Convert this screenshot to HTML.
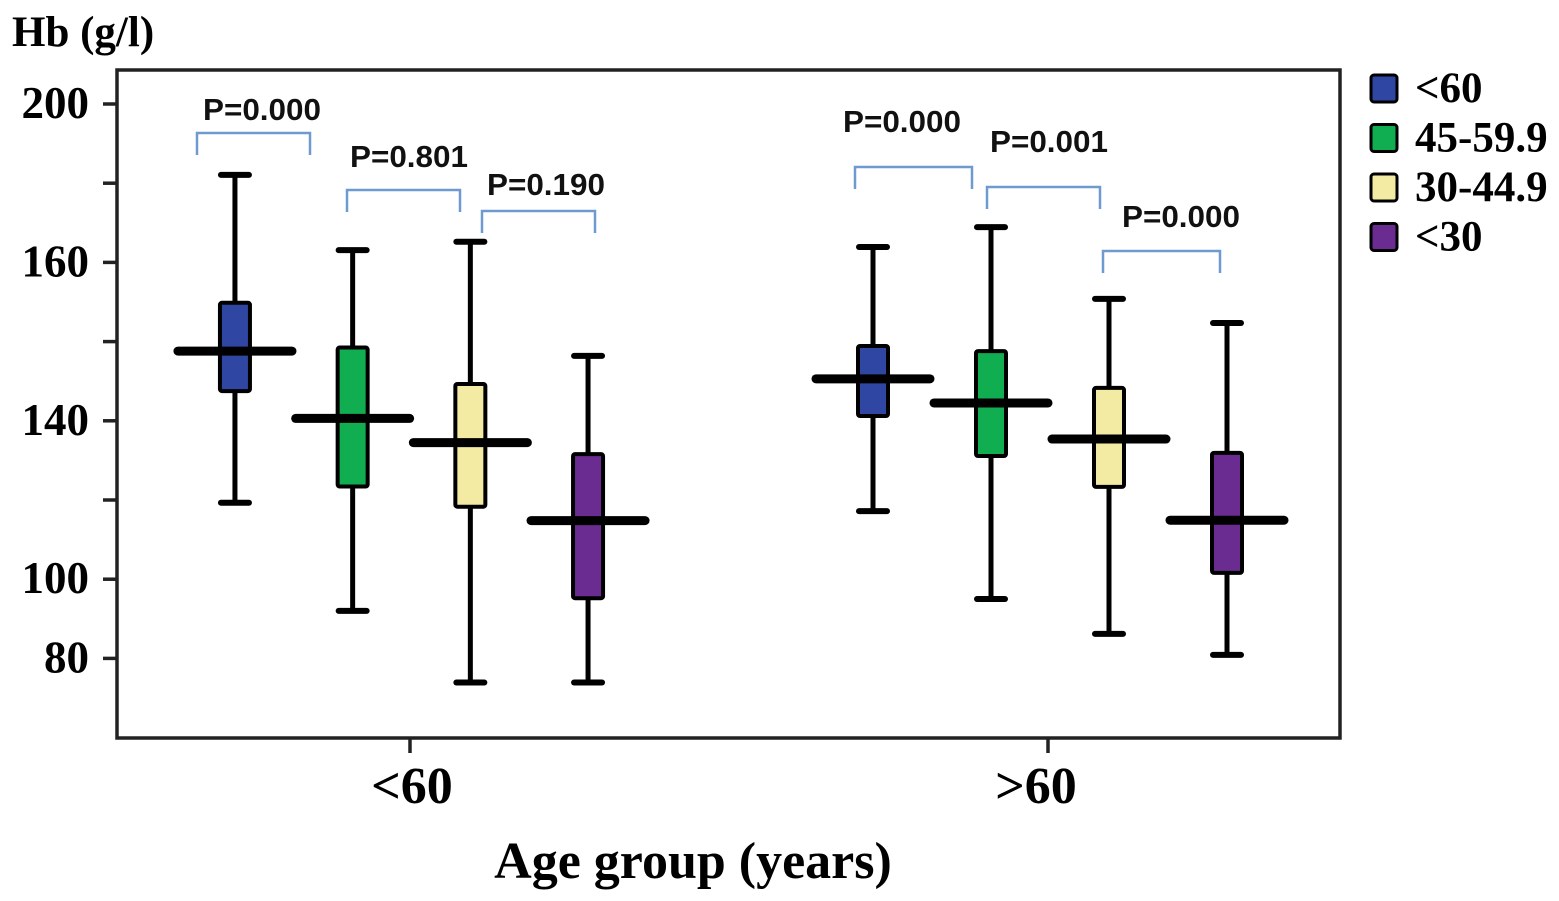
<!DOCTYPE html>
<html><head><meta charset="utf-8"><style>
html,body{margin:0;padding:0;background:#fff;}
svg{display:block;}
.serif{font-family:"Liberation Serif",serif;font-weight:bold;fill:#000;}
.p{font-family:"Liberation Sans",sans-serif;font-weight:bold;font-size:31px;fill:#111;}
</style></head><body>
<svg id="chart" width="1559" height="901" viewBox="0 0 1559 901">
<text class="serif" x="12" y="46" font-size="43">Hb (g/l)</text>
<rect x="117" y="70" width="1223" height="668" fill="none" stroke="#222" stroke-width="3.5"/>
<g id="yaxis"></g>
<g id="xaxis"></g>
<g id="brackets"></g>
<g id="boxes"></g>
<g id="legend"></g>
<text class="serif" x="693" y="878" font-size="52" text-anchor="middle">Age group (years)</text>
</svg>
<script>
const tickLabels=["200","","160","","140","","100","80"];
const groups=["<60",">60"];
const series=["<60","45-59.9","30-44.9","<30"];
const colors=["#2f46a3","#10ae50","#f3eaa3","#6b2c91"];
const g1Min=[99.3,72.0,53.9,53.9];
const g1Q1=[127.5,103.4,98.3,75.2];
const g1Med=[137.6,120.6,114.5,94.8];
const g1Q3=[149.8,138.5,129.3,111.6];
const g1Max=[182.1,163.1,165.2,136.4];
const g2Min=[97.2,75.0,66.2,60.9];
const g2Q1=[121.2,111.1,103.3,81.6];
const g2Med=[130.6,124.5,115.4,94.9];
const g2Q3=[138.9,137.6,128.3,111.9];
const g2Max=[163.9,168.9,150.8,144.7];
const pLabels=["P=0.000","P=0.801","P=0.190","P=0.000","P=0.001","P=0.000"];

const NS="http://www.w3.org/2000/svg";
function y(v){return 104+(200-v)*3.96;}
const groupTicks=[410,1048];
const boxCenters=[411.5,1050];
const boxSpacing=[117.7,118];
function x(g,s){return boxCenters[g]+(s-1.5)*boxSpacing[g];}
function mk(tag,attrs,parent){const e=document.createElementNS(NS,tag);for(const k in attrs)e.setAttribute(k,attrs[k]);parent.appendChild(e);return e;}

const ya=document.getElementById('yaxis');
for(let i=0;i<tickLabels.length;i++){
  const v=200-20*i;const yy=y(v);
  const t=mk('line',{x1:103,x2:117,y1:yy,y2:yy,stroke:'#222','stroke-width':3.5},ya);
  
  
  if(tickLabels[i]){
    const tx=mk('text',{x:89,y:yy+14,'text-anchor':'end','font-size':45,class:'serif'},ya);
    tx.textContent=tickLabels[i];
    
    
  }
}
const xa=document.getElementById('xaxis');
groups.forEach((g,i)=>{
  const gx=groupTicks[i];
  const t=mk('line',{x1:gx,x2:gx,y1:738,y2:753,stroke:'#222','stroke-width':3.5},xa);
  
  
  const tx=mk('text',{x:gx-(i?12:-2),y:803,'text-anchor':'middle','font-size':52,class:'serif'},xa);
  tx.textContent=g;
  
  
});

const bx=document.getElementById('boxes');
const data=[[g1Min,g1Q1,g1Med,g1Q3,g1Max],[g2Min,g2Q1,g2Med,g2Q3,g2Max]];
for(let g=0;g<2;g++){
  for(let s=0;s<4;s++){
    const d=data[g];const cx=x(g,s);
    const grp=mk('g',{},bx);
    
    
    mk('line',{x1:cx,x2:cx,y1:y(d[4][s]),y2:y(d[0][s]),stroke:'#000','stroke-width':5},grp);
    mk('line',{x1:cx-14,x2:cx+14,y1:y(d[4][s]),y2:y(d[4][s]),stroke:'#000','stroke-width':6,'stroke-linecap':'round'},grp);
    mk('line',{x1:cx-14,x2:cx+14,y1:y(d[0][s]),y2:y(d[0][s]),stroke:'#000','stroke-width':6,'stroke-linecap':'round'},grp);
    mk('rect',{x:cx-15,y:y(d[3][s]),width:30,height:y(d[1][s])-y(d[3][s]),fill:colors[s],stroke:'#000','stroke-width':4,rx:2},grp);
    mk('line',{x1:cx-57,x2:cx+57,y1:y(d[2][s]),y2:y(d[2][s]),stroke:'#000','stroke-width':9,'stroke-linecap':'round'},grp);
  }
}

// bracket annotation geometry (layout, not data)
const brk=[[197,310,133,262,120],[347,460,190,409,167],[482,595,211,546,195],[855,972,167,902,132],[987,1100,187,1049,152],[1103,1220,251,1181,227]];
const br=document.getElementById('brackets');
brk.forEach((b,i)=>{
  const path=mk('path',{d:`M${b[0]},${b[2]+22} V${b[2]} H${b[1]} V${b[2]+22}`,fill:'none',stroke:'#6f9ad0','stroke-width':2.5},br);
  
  
  const t=mk('text',{x:b[3],y:b[4],'text-anchor':'middle',class:'p',textLength:118,lengthAdjust:'spacingAndGlyphs'},br);
  t.textContent=pLabels[i];
  
  
});

const lg=document.getElementById('legend');
series.forEach((s,i)=>{
  const yy=75+i*49.5;
  const e=mk('g',{},lg);
  
  
  mk('rect',{x:1371,y:yy,width:26,height:27,fill:colors[i],stroke:'#000','stroke-width':3,rx:3},e);
  const t=mk('text',{x:1415,y:yy+27,'font-size':43,class:'serif'},e);
  t.textContent=s;
});
</script>
</body></html>
